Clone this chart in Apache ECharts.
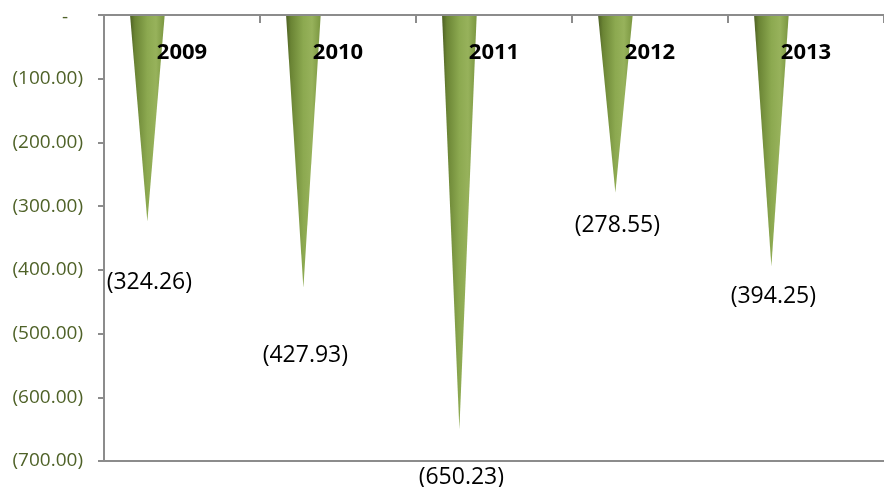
<!DOCTYPE html>
<html>
<head>
<meta charset="utf-8">
<title>Net results 2009–2013</title>
<script src="https://cdn.jsdelivr.net/npm/echarts@6/dist/echarts.min.js"></script>
<style>
  html, body { margin: 0; padding: 0; background: #ffffff; }
  #chart { width: 884px; height: 487px; }
</style>
</head>
<body>
<div id="chart"></div>
<script>
// Yearly figures (all negative)
const years = ['2009', '2010', '2011', '2012', '2013'];
const netValues = [-324.26, -427.93, -650.23, -278.55, -394.25];

// Value axis range and step
const axisMin = -700;
const axisMax = 0;
const axisStep = 100;

// How far each value label sits below its cone tip, in px
const labelDrop = [61, 68, 48, 33, 30];

const FONT = '"Open Sans", "Liberation Sans", sans-serif';

function accounting(v) {
  if (v === 0) return '-';
  const s = Math.abs(v).toFixed(2);
  return v < 0 ? '(' + s + ')' : s;
}

const coneFill = new echarts.graphic.LinearGradient(0, 0, 1, 0, [
  { offset: 0.00, color: '#4d6023' },
  { offset: 0.14, color: '#6a8434' },
  { offset: 0.50, color: '#8ca950' },
  { offset: 0.75, color: '#97b25b' },
  { offset: 1.00, color: '#7a9640' }
]);

const chart = echarts.init(document.getElementById('chart'), null, { renderer: 'canvas' });

chart.setOption({
  animation: false,
  backgroundColor: '#ffffff',
  grid: { left: 104, top: 15, width: 787, height: 446, containLabel: false },
  xAxis: [
    {
      type: 'category',
      data: years,
      position: 'top',
      z: 5,
      axisLine: { show: true, lineStyle: { color: '#8c8c8c', width: 2 } },
      axisTick: { show: true, inside: true, length: 8, lineStyle: { color: '#8c8c8c', width: 2 } },
      axisLabel: {
        inside: true,
        margin: 27,
        color: '#000000',
        fontFamily: FONT,
        fontWeight: 'bold',
        fontSize: 22
      },
      splitLine: { show: false }
    },
    {
      type: 'category',
      data: years,
      position: 'bottom',
      axisLine: { show: true, lineStyle: { color: '#8c8c8c', width: 2 } },
      axisTick: { show: false },
      axisLabel: { show: false },
      splitLine: { show: false }
    }
  ],
  yAxis: {
    type: 'value',
    min: axisMin,
    max: axisMax,
    interval: axisStep,
    axisLine: { show: true, lineStyle: { color: '#8c8c8c', width: 2 } },
    axisTick: { show: true, length: 6, lineStyle: { color: '#8c8c8c', width: 2 } },
    splitLine: { show: false },
    axisLabel: {
      margin: 21,
      color: '#4f6228',
      fontFamily: FONT,
      fontSize: 19,
      formatter: function (v) {
        return v === 0 ? '{dash|-}' : accounting(v);
      },
      rich: {
        dash: { color: '#4f6228', fontFamily: FONT, fontSize: 19, padding: [6, 15, 0, 0] }
      }
    }
  },
  series: [
    {
      type: 'custom',
      xAxisIndex: 0,
      z: 1,
      clip: false,
      encode: { x: 0, y: 1 },
      data: netValues.map(function (v, i) { return [i, v]; }),
      renderItem: function (params, api) {
        const idx = api.value(0);
        const v = api.value(1);
        const band = api.size([1, 0])[0];
        const base = api.coord([idx, 0]);
        const tip = api.coord([idx, v]);
        const cx = base[0] - band * 0.222;
        const half = band * 0.111;
        return {
          type: 'group',
          children: [
            {
              type: 'polygon',
              shape: { points: [[cx - half, base[1]], [cx + half, base[1]], [cx, tip[1]]] },
              style: { fill: coneFill }
            },
            {
              type: 'text',
              x: cx + 2,
              y: tip[1] + labelDrop[idx],
              style: {
                text: accounting(v),
                fill: '#000000',
                fontFamily: FONT,
                fontSize: 23,
                align: 'center',
                verticalAlign: 'middle'
              }
            }
          ]
        };
      }
    }
  ]
});
</script>
</body>
</html>
